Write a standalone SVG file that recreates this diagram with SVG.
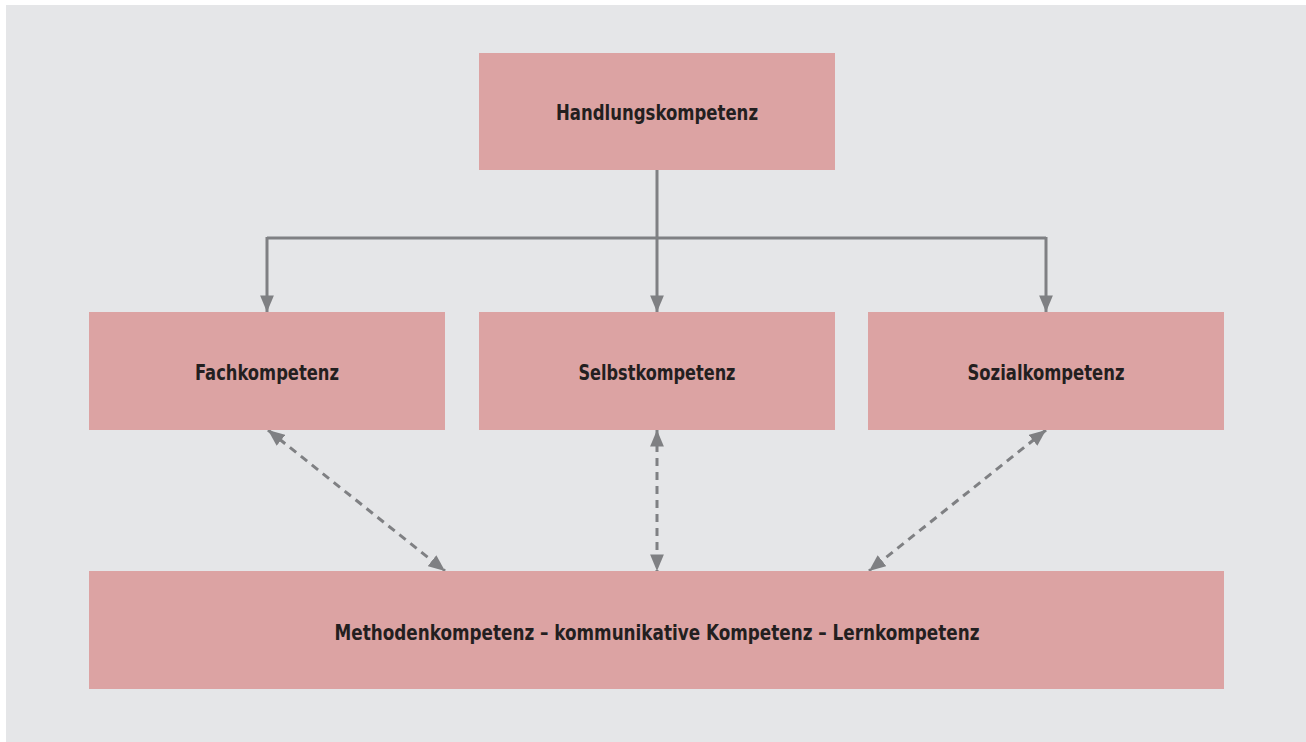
<svg xmlns="http://www.w3.org/2000/svg" width="1306" height="742" viewBox="0 0 1306 742">
<style>
.box{fill:#dca3a3}
.lbl{font-family:"DejaVu Sans Condensed","DejaVu Sans","Liberation Sans",sans-serif;font-weight:bold;font-size:21px;fill:#231f20;text-anchor:middle}
.ln{stroke:#7f8083;stroke-width:3;fill:none}
.dash{stroke:#7f8083;stroke-width:3;fill:none;stroke-dasharray:8,6}
</style>
<defs>
<marker id="ah" viewBox="0 0 12 10" refX="12" refY="5" markerWidth="5.6" markerHeight="4.6" markerUnits="strokeWidth" orient="auto-start-reverse">
<path d="M0,0 L12,5 L0,10 Z" fill="#7f8083"/>
</marker>
</defs>
<rect x="0" y="0" width="1306" height="742" fill="#ffffff"/>
<rect x="6" y="5" width="1300" height="737" fill="#e5e6e8"/>
<g id="connectors">
<path class="ln" d="M657,170 V238"/>
<path class="ln" d="M267,238 H1046"/>
<path class="ln" d="M267,237 V312" marker-end="url(#ah)"/>
<path class="ln" d="M657,238 V312" marker-end="url(#ah)"/>
<path class="ln" d="M1046,237 V312" marker-end="url(#ah)"/>
<path class="dash" d="M268,430 L445,571" marker-start="url(#ah)" marker-end="url(#ah)"/>
<path class="dash" d="M657,430 L657,571" marker-start="url(#ah)" marker-end="url(#ah)"/>
<path class="dash" d="M1046,430 L869,571" marker-start="url(#ah)" marker-end="url(#ah)"/>
</g>
<g id="n-handlung"><rect class="box" x="479" y="53" width="356" height="117"/><text class="lbl" x="657" y="120" textLength="202" lengthAdjust="spacingAndGlyphs">Handlungskompetenz</text></g>
<g id="n-fach"><rect class="box" x="89" y="312" width="356" height="118"/><text class="lbl" x="267" y="380" textLength="144" lengthAdjust="spacingAndGlyphs">Fachkompetenz</text></g>
<g id="n-selbst"><rect class="box" x="479" y="312" width="356" height="118"/><text class="lbl" x="657" y="380" textLength="157" lengthAdjust="spacingAndGlyphs">Selbstkompetenz</text></g>
<g id="n-sozial"><rect class="box" x="868" y="312" width="356" height="118"/><text class="lbl" x="1046" y="380" textLength="157" lengthAdjust="spacingAndGlyphs">Sozialkompetenz</text></g>
<g id="n-methoden"><rect class="box" x="89" y="571" width="1135" height="118"/><text class="lbl" x="657" y="640" textLength="645" lengthAdjust="spacingAndGlyphs">Methodenkompetenz – kommunikative Kompetenz – Lernkompetenz</text></g>
</svg>
